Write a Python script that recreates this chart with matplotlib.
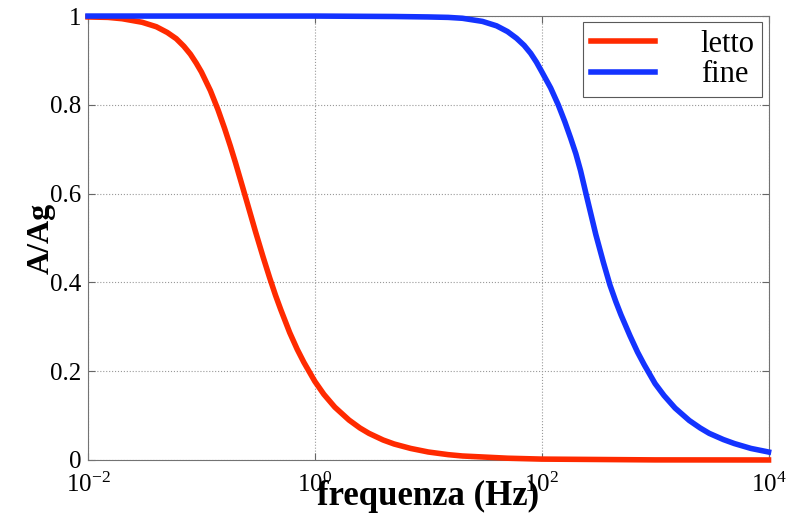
import matplotlib
matplotlib.use("Agg")
import matplotlib.pyplot as plt
from matplotlib.ticker import FixedLocator, NullLocator

# values
freq_letto = [0.01, 0.015, 0.02, 0.03, 0.04, 0.05, 0.06, 0.07, 0.08, 0.09, 0.1, 0.12, 0.14,
              0.16, 0.18, 0.2, 0.23, 0.26, 0.3, 0.35, 0.4, 0.45, 0.5, 0.6, 0.7, 0.8, 1.0,
              1.2, 1.5, 2, 2.5, 3, 4, 5, 7, 10, 15, 20, 50, 100, 1000, 10000]
amp_letto = [0.998, 0.997, 0.994, 0.986, 0.976, 0.963, 0.949, 0.932, 0.914, 0.894, 0.874,
             0.832, 0.789, 0.747, 0.707, 0.669, 0.616, 0.569, 0.514, 0.457, 0.410, 0.371,
             0.339, 0.287, 0.249, 0.220, 0.177, 0.148, 0.119, 0.090, 0.072, 0.060, 0.045,
             0.036, 0.026, 0.018, 0.012, 0.009, 0.004, 0.002, 0.0002, 0.0]

freq_fine = [0.01, 0.1, 1, 5, 10, 15, 20, 30, 40, 50, 60, 70, 80, 90, 100, 120, 140, 160,
             180, 200, 220, 250, 300, 350, 400, 450, 500, 600, 700, 800, 1000, 1200, 1500,
             2000, 2500, 3000, 4000, 5000, 7000, 10000]
amp_fine = [1.0, 1.0, 1.0, 0.999, 0.998, 0.997, 0.995, 0.988, 0.978, 0.965, 0.950, 0.934,
            0.916, 0.896, 0.875, 0.838, 0.800, 0.762, 0.725, 0.690, 0.652, 0.592, 0.508,
            0.445, 0.394, 0.357, 0.327, 0.280, 0.243, 0.215, 0.172, 0.145, 0.117, 0.089,
            0.072, 0.060, 0.046, 0.037, 0.026, 0.018]

xticks = [1e-2, 1e0, 1e2, 1e4]
xtick_labels = ["$10^{-2}$", "$10^{0}$", "$10^{2}$", "$10^{4}$"]
yticks = [0, 0.2, 0.4, 0.6, 0.8, 1]
ytick_labels = ["0", "0.2", "0.4", "0.6", "0.8", "1"]

RED = "#ff2a00"
BLUE = "#1433ff"

plt.rcParams.update({
    "font.family": "Liberation Serif",
    "mathtext.fontset": "custom",
    "mathtext.rm": "Liberation Serif",
    "mathtext.it": "Liberation Serif:italic",
    "mathtext.bf": "Liberation Serif:bold",
})

fig = plt.figure(figsize=(7.95, 5.18), dpi=100)
ax = fig.add_axes([0.1107, 0.112, 0.856, 0.857])

ax.plot(freq_letto, amp_letto, color=RED, lw=4, label="letto", clip_on=False, zorder=3)
ax.plot(freq_fine, amp_fine, color=BLUE, lw=4, label="fine", clip_on=False, zorder=3)

ax.set_xscale("log")
ax.set_xlim(1e-2, 1e4)
ax.set_ylim(0, 1)
ax.xaxis.set_major_locator(FixedLocator(xticks))
ax.xaxis.set_minor_locator(NullLocator())
ax.set_xticklabels(xtick_labels, fontsize=18)
ax.set_yticks(yticks)
ax.set_yticklabels(ytick_labels, fontsize=18)
ax.tick_params(direction="in", length=5, color="0.4", top=True, right=True)
ax.tick_params(axis="x", pad=9)
ax.tick_params(axis="y", pad=5)

ax.grid(True, linestyle=":", color="0.6", lw=0.8)
for sp in ax.spines.values():
    sp.set_color("0.45")

ax.set_xlabel("frequenza (Hz)", fontsize=25, fontweight="bold", labelpad=-12)
ax.set_ylabel("A/Ag", fontsize=23, fontweight="bold", labelpad=-4)

leg = ax.legend(loc="upper right", fontsize=22, fancybox=False, framealpha=1,
                edgecolor="0.35", handlelength=2.1, borderaxespad=0.2, borderpad=0.25,
                labelspacing=0.05, handletextpad=1.5)
leg.get_frame().set_linewidth(0.8)

fig.savefig("out.png", dpi=100)
